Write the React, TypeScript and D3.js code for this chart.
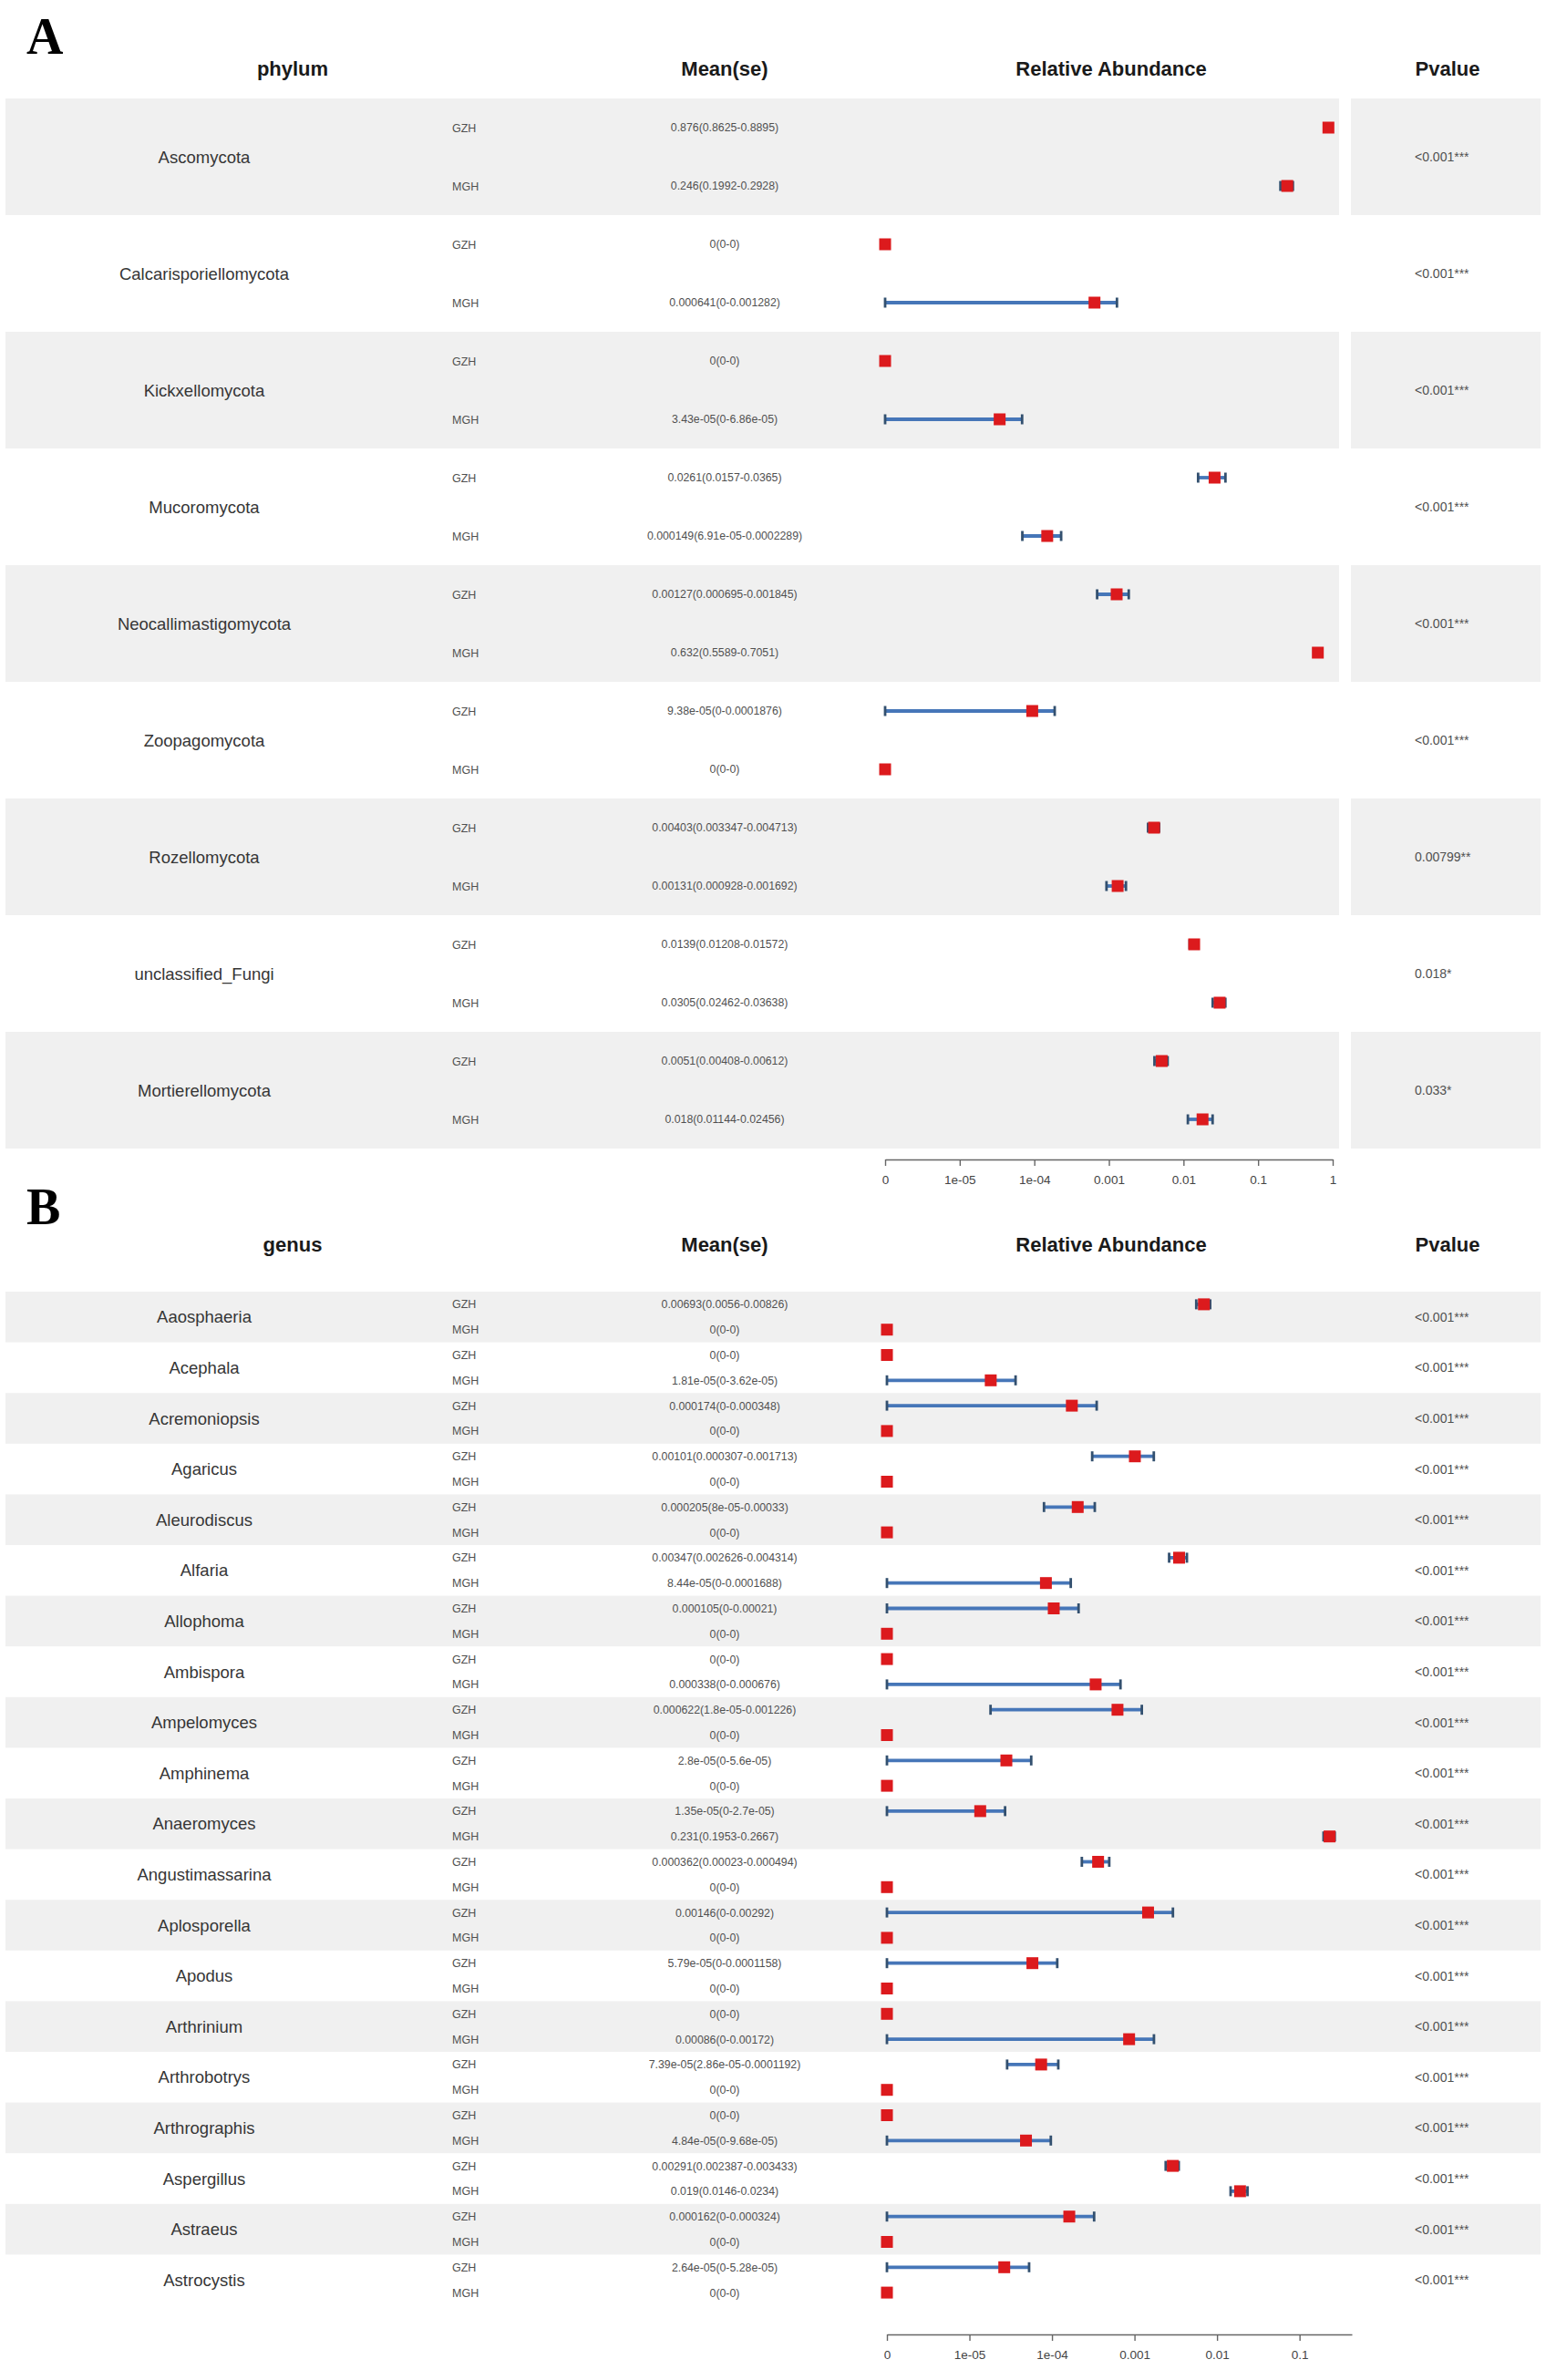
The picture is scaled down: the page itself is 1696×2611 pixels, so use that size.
import React, { useEffect, useRef } from 'react';
import * as d3 from 'd3';

// ---- data: [mean, lower, upper] per group ----
const phylumNames = [
  'Ascomycota', 'Calcarisporiellomycota', 'Kickxellomycota', 'Mucoromycota',
  'Neocallimastigomycota', 'Zoopagomycota', 'Rozellomycota', 'unclassified_Fungi', 'Mortierellomycota',
];
const phylumGZH = [
  [0.876, 0.8625, 0.8895], [0, 0, 0], [0, 0, 0], [0.0261, 0.0157, 0.0365],
  [0.00127, 0.000695, 0.001845], [9.38e-05, 0, 0.0001876], [0.00403, 0.003347, 0.004713],
  [0.0139, 0.01208, 0.01572], [0.0051, 0.00408, 0.00612],
];
const phylumMGH = [
  [0.246, 0.1992, 0.2928], [0.000641, 0, 0.001282], [3.43e-05, 0, 6.86e-05],
  [0.000149, 6.91e-05, 0.0002289], [0.632, 0.5589, 0.7051], [0, 0, 0],
  [0.00131, 0.000928, 0.001692], [0.0305, 0.02462, 0.03638], [0.018, 0.01144, 0.02456],
];
const phylumP = ['<0.001***', '<0.001***', '<0.001***', '<0.001***', '<0.001***', '<0.001***', '0.00799**', '0.018*', '0.033*'];

const genusNames = [
  'Aaosphaeria', 'Acephala', 'Acremoniopsis', 'Agaricus', 'Aleurodiscus', 'Alfaria', 'Allophoma',
  'Ambispora', 'Ampelomyces', 'Amphinema', 'Anaeromyces', 'Angustimassarina', 'Aplosporella',
  'Apodus', 'Arthrinium', 'Arthrobotrys', 'Arthrographis', 'Aspergillus', 'Astraeus', 'Astrocystis',
];
const genusGZH = [
  [0.00693, 0.0056, 0.00826], [0, 0, 0], [0.000174, 0, 0.000348], [0.00101, 0.000307, 0.001713],
  [0.000205, 8e-05, 0.00033], [0.00347, 0.002626, 0.004314], [0.000105, 0, 0.00021], [0, 0, 0],
  [0.000622, 1.8e-05, 0.001226], [2.8e-05, 0, 5.6e-05], [1.35e-05, 0, 2.7e-05],
  [0.000362, 0.00023, 0.000494], [0.00146, 0, 0.00292], [5.79e-05, 0, 0.0001158], [0, 0, 0],
  [7.39e-05, 2.86e-05, 0.0001192], [0, 0, 0], [0.00291, 0.002387, 0.003433],
  [0.000162, 0, 0.000324], [2.64e-05, 0, 5.28e-05],
];
const genusMGH = [
  [0, 0, 0], [1.81e-05, 0, 3.62e-05], [0, 0, 0], [0, 0, 0], [0, 0, 0], [8.44e-05, 0, 0.0001688],
  [0, 0, 0], [0.000338, 0, 0.000676], [0, 0, 0], [0, 0, 0], [0.231, 0.1953, 0.2667], [0, 0, 0],
  [0, 0, 0], [0, 0, 0], [0.00086, 0, 0.00172], [0, 0, 0], [4.84e-05, 0, 9.68e-05],
  [0.019, 0.0146, 0.0234], [0, 0, 0], [0, 0, 0],
];
const genusP = genusNames.map(() => '<0.001***');

const tickValues = [1e-6, 1e-5, 1e-4, 1e-3, 1e-2, 1e-1, 1];
const tickLabels = ['0', '1e-05', '1e-04', '0.001', '0.01', '0.1', '1'];
const groups = ['GZH', 'MGH'];

const FONT = '"Liberation Sans", Arial, sans-serif';

// mimic R's number printing
const fmt = (v: number) => {
  if (v === 0) return '0';
  if (v < 1e-4) return v.toExponential().replace(/e-(\d)$/, 'e-0$1');
  return String(v);
};

type PanelProps = {
  letter: string;
  header: string;
  names: string[];
  gzh: number[][];
  mgh: number[][];
  pvals: string[];
  letterY: number;
  headerY: number;
  rowTop: number;
  rowH: number;
  axisY: number;
  xMax: number;
  xRange: [number, number];
  splitBands: boolean;
};

const Panel: React.FC<PanelProps> = (p) => {
  const axisRef = useRef<SVGGElement | null>(null);
  const x = d3.scaleLog().domain([1e-6, p.xMax]).range(p.xRange).clamp(true);
  const px = (v: number) => x(Math.max(v, 1e-6));

  useEffect(() => {
    const ticks = tickValues.filter(t => t <= p.xMax * 1.0001);
    const g = d3.select(axisRef.current);
    g.selectAll('*').remove();
    g.call(
      d3.axisBottom(x)
        .tickValues(ticks)
        .tickFormat((_, i) => tickLabels[i])
        .tickSizeInner(7)
        .tickSizeOuter(0)
        .tickPadding(10)
    );
    g.select('.domain').attr('stroke', '#666').attr('stroke-width', 1.6);
    g.selectAll('.tick line').attr('stroke', '#666').attr('stroke-width', 1.4);
    g.selectAll('.tick text').attr('fill', '#444').style('font-size', '13.5px').style('font-family', FONT);
  }, [p.xMax]);

  const headerStyle = { fontFamily: FONT, fontWeight: 700, fontSize: 22, fill: '#1a1a1a' } as const;

  return (
    <g>
      <text x={29} y={p.letterY} style={{ fontFamily: '"Liberation Serif", "Times New Roman", serif', fontWeight: 700, fontSize: 56 }}>
        {p.letter}
      </text>
      <text x={321} y={p.headerY} textAnchor="middle" style={headerStyle}>{p.header}</text>
      <text x={795} y={p.headerY} textAnchor="middle" style={headerStyle}>Mean(se)</text>
      <text x={1219} y={p.headerY} textAnchor="middle" style={headerStyle}>Relative Abundance</text>
      <text x={1588} y={p.headerY} textAnchor="middle" style={headerStyle}>Pvalue</text>

      {p.names.map((name, i) => {
        const top = p.rowTop + i * p.rowH;
        const mid = top + p.rowH / 2;
        const rows = [p.gzh[i], p.mgh[i]];
        return (
          <g key={name}>
            {i % 2 === 0 && (p.splitBands ? (
              <>
                <rect x={6} y={top} width={1463} height={p.rowH} fill="#f0f0f0" />
                <rect x={1482} y={top} width={208} height={p.rowH} fill="#f0f0f0" />
              </>
            ) : (
              <rect x={6} y={top} width={1684} height={p.rowH} fill="#f0f0f0" />
            ))}
            <text x={224} y={mid} dy="0.36em" textAnchor="middle"
              style={{ fontFamily: FONT, fontSize: 18.5, fill: '#363636' }}>{name}</text>
            <text x={1552} y={mid} dy="0.36em"
              style={{ fontFamily: FONT, fontSize: 14, fill: '#505050' }}>{p.pvals[i]}</text>
            {rows.map(([m, lo, hi], j) => {
              const y = top + p.rowH * (j === 0 ? 0.25 : 0.75);
              return (
                <g key={j}>
                  <text x={496} y={y} dy="0.36em" style={{ fontFamily: FONT, fontSize: 12.5, fill: '#505050' }}>{groups[j]}</text>
                  <text x={795} y={y} dy="0.36em" textAnchor="middle"
                    style={{ fontFamily: FONT, fontSize: 12.3, fill: '#505050' }}>{`${fmt(m)}(${fmt(lo)}-${fmt(hi)})`}</text>
                  {hi > lo && (
                    <g>
                      <line x1={px(lo)} x2={px(hi)} y1={y} y2={y} stroke="#4676b8" strokeWidth={3.8} />
                      <line x1={px(lo)} x2={px(lo)} y1={y - 5.5} y2={y + 5.5} stroke="#33506f" strokeWidth={2.8} />
                      <line x1={px(hi)} x2={px(hi)} y1={y - 5.5} y2={y + 5.5} stroke="#33506f" strokeWidth={2.8} />
                    </g>
                  )}
                  <rect x={px(m) - 6.5} y={y - 6.5} width={13} height={13} fill="#dc1a1d" />
                </g>
              );
            })}
          </g>
        );
      })}

      <g ref={axisRef} transform={`translate(0,${p.axisY})`} />
    </g>
  );
};

export default function App() {
  return (
    <svg width={1696} height={2611} style={{ position: 'absolute', left: 0, top: 0, background: '#fff' }}>
      <rect width={1696} height={2611} fill="#fff" />
      <Panel
        letter="A" header="phylum" names={phylumNames} gzh={phylumGZH} mgh={phylumMGH} pvals={phylumP}
        letterY={59} headerY={83} rowTop={108} rowH={128} axisY={1272}
        xMax={1} xRange={[971, 1462]} splitBands={true}
      />
      <Panel
        letter="B" header="genus" names={genusNames} gzh={genusGZH} mgh={genusMGH} pvals={genusP}
        letterY={1343} headerY={1373} rowTop={1417} rowH={55.6} axisY={2561}
        xMax={0.43} xRange={[973, 1483]} splitBands={false}
      />
    </svg>
  );
}
